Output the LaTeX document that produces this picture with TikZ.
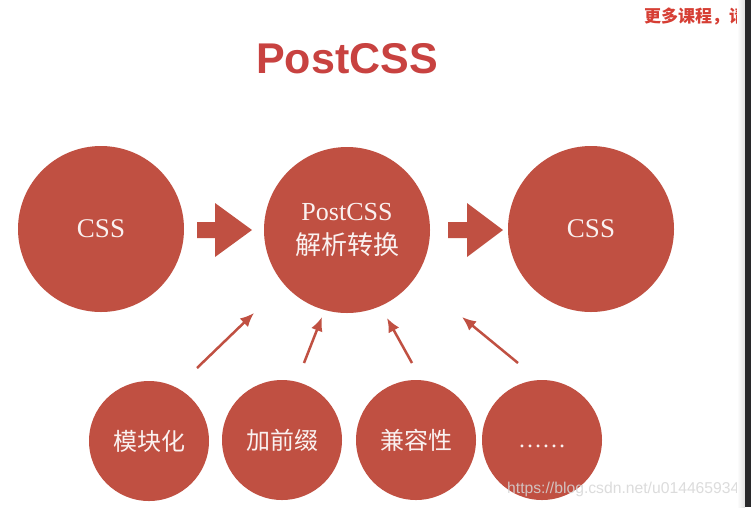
\documentclass[tikz,border=0pt]{standalone}
\usepackage{fontspec}
\setmainfont{Liberation Serif}
\newfontfamily\cjk{Noto Sans CJK SC}
\newfontfamily\headfont{Liberation Sans}
\usetikzlibrary{positioning,arrows.meta}
\definecolor{brick}{RGB}{192,80,66}
\definecolor{titlered}{RGB}{200,66,64}
\definecolor{promored}{RGB}{214,62,52}
\definecolor{striptone}{RGB}{40,40,42}

\begin{document}
\begin{tikzpicture}[x=1pt,y=-1pt,
	big/.style={circle,fill=brick,minimum size=166pt,inner sep=0pt,text=white!92!brick,align=center,font=\fontsize{26}{34}\selectfont},
	small/.style={circle,fill=brick,minimum size=120pt,inner sep=0pt,text=white!92!brick,font=\cjk\fontsize{24}{28}\selectfont},
	feed/.style={draw=brick,line width=2.5pt,-{Latex[length=14pt,width=12pt]}}]
	\useasboundingbox[fill=white] (0,0) rectangle (751,507);
	\node[font=\headfont\bfseries\fontsize{43}{48}\selectfont,text=titlered] (title) at (347,59) {PostCSS};
	% main row
	\node[big,font=\fontsize{27}{32}\selectfont] (src) at (101,229) {CSS};
	\node[big] (mid) at (347,230) {PostCSS\\{\cjk 解析转换}};
	\node[big,font=\fontsize{27}{32}\selectfont] (out) at (591,229) {CSS};
	\fill[brick] (197,222) -- (215,222) -- (215,203) -- (252,230) -- (215,257) -- (215,238) -- (197,238) -- cycle;
	\fill[brick] (448,222) -- (467,222) -- (467,203) -- (503,230) -- (467,257) -- (467,238) -- (448,238) -- cycle;
	% plugins
	\node[small] (modul) at (149,441) {模块化};
	\node[small] (prefix) at (282,440) {加前缀};
	\node[small] (compat) at (416,440) {兼容性};
	\node[small,font=\fontsize{24}{28}\selectfont,text height=16pt,text depth=2pt] (more) at (542,440) {……};
	\coordinate (t1) at (197,368); \coordinate (h1) at (254,313);
	\coordinate (t2) at (304,363); \coordinate (h2) at (322,317);
	\coordinate (t3) at (412,363); \coordinate (h3) at (387,318);
	\coordinate (t4) at (518,363); \coordinate (h4) at (462,317);
	\foreach \i in {1,...,4}
		\draw[feed] (t\i) -- (h\i);
	% overlays
	\node[anchor=west,inner sep=0pt,text=promored,font=\cjk\bfseries\fontsize{17}{20}\selectfont] (promo) at (644,17) {更多课程，请};
	\node[anchor=base west,inner sep=0pt,text=white!84!black,opacity=0.85,font=\headfont\fontsize{15.7}{18}\selectfont] (mark) at (507,493) {https://blog.csdn.net/u014465934};
	\shade[left color=white,right color=black!12] (737,0) rectangle (745,507);
	\fill[striptone] (745,0) rectangle (751,507);
\end{tikzpicture}
\end{document}
